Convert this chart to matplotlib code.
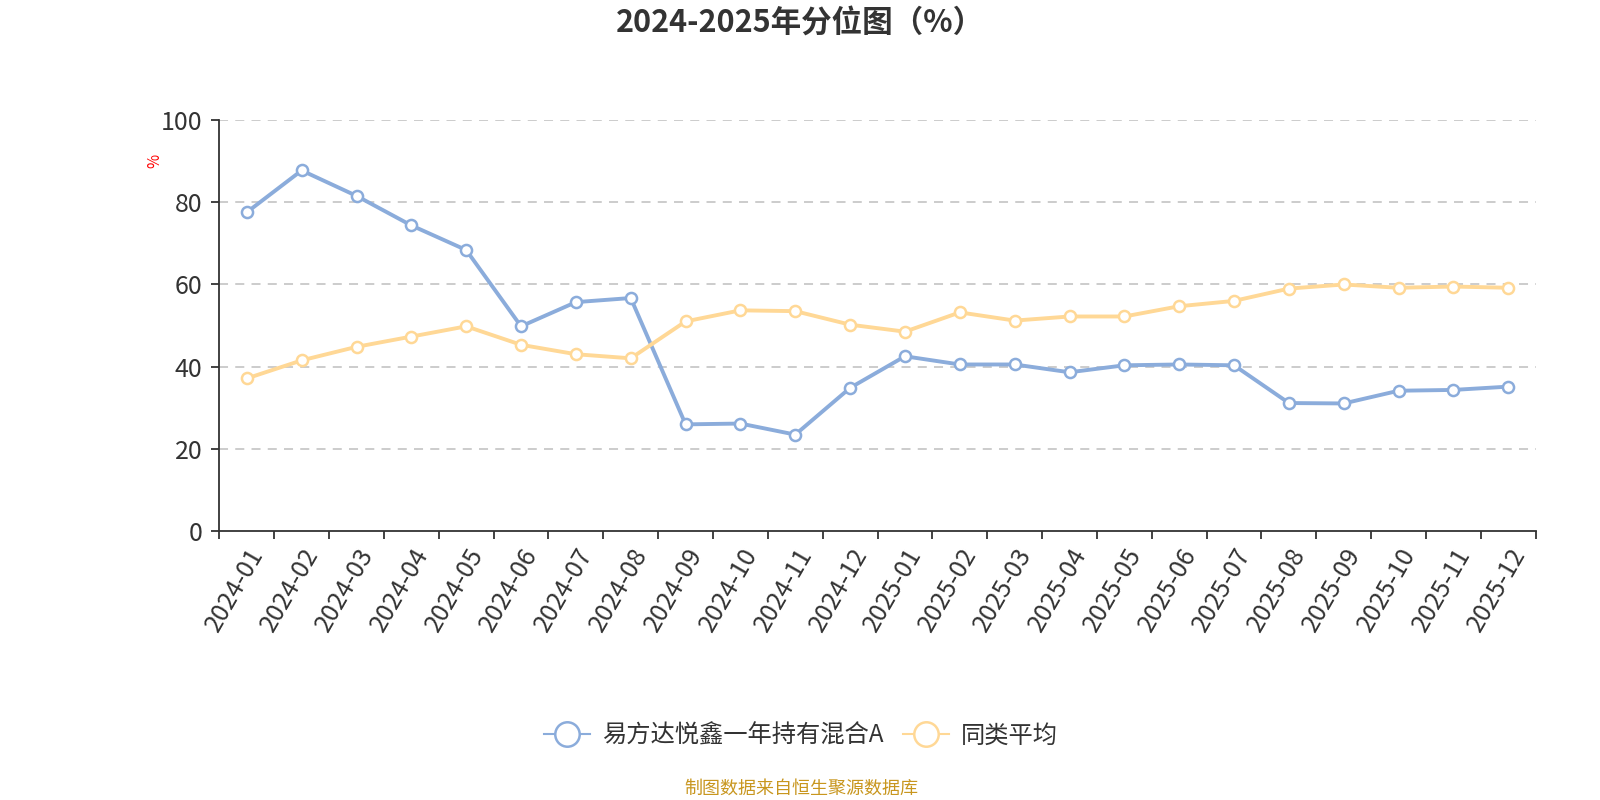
import matplotlib
matplotlib.use("Agg")
import matplotlib.pyplot as plt
import numpy as np

plt.rcParams['font.family'] = ['Noto Sans CJK SC', 'DejaVu Sans']

months = ["2024-01", "2024-02", "2024-03", "2024-04", "2024-05", "2024-06",
          "2024-07", "2024-08", "2024-09", "2024-10", "2024-11", "2024-12",
          "2025-01", "2025-02", "2025-03", "2025-04", "2025-05", "2025-06",
          "2025-07", "2025-08", "2025-09", "2025-10", "2025-11", "2025-12"]
fund = [77.6, 87.8, 81.6, 74.4, 68.4, 49.8, 55.7, 56.7, 25.9, 26.1, 23.4, 34.8,
        42.5, 40.5, 40.5, 38.6, 40.3, 40.5, 40.3, 31.1, 31.0, 34.1, 34.3, 35.1]
peer = [37.1, 41.5, 44.8, 47.3, 49.8, 45.3, 43.0, 42.0, 51.0, 53.7, 53.5, 50.2,
        48.5, 53.2, 51.2, 52.2, 52.2, 54.7, 56.0, 59.0, 60.0, 59.2, 59.5, 59.2]
series_names = ["易方达悦鑫一年持有混合A", "同类平均"]
yticks = [0, 20, 40, 60, 80, 100]

blue = '#8BACDB'
yellow = '#FFD896'
dark = '#333333'

W, H = 1568, 784
fig = plt.figure(figsize=(16, 8), dpi=100)
ax = fig.add_axes([215/W, 1-520/H, 1290/W, 402/H])

x = np.arange(len(months))
for vals, col, name in [(fund, blue, series_names[0]), (peer, yellow, series_names[1])]:
    ax.plot(x, vals, color=col, lw=2.8, marker='o', ms=8, mfc='white',
            mec=col, mew=1.8, label=name, zorder=3)

ax.set_xlim(-0.5, len(months) - 0.5)
ax.set_ylim(0, 100)
ax.set_yticks(yticks)
ax.set_yticklabels([str(t) for t in yticks], fontsize=18, color=dark)
ax.set_xticks(x)
ax.set_xticklabels(months, rotation=60, ha='right', va='top',
                   rotation_mode='anchor', fontsize=18, color=dark)
ax.set_xticks(np.arange(len(months) + 1) - 0.5, minor=True)
ax.tick_params(axis='x', which='major', length=0, pad=9)
ax.tick_params(axis='x', which='minor', length=6, width=1.3, color=dark)
ax.tick_params(axis='y', length=6, width=1.3, color=dark, pad=6)

for s in ['top', 'right']:
    ax.spines[s].set_visible(False)
for s in ['left', 'bottom']:
    ax.spines[s].set_color(dark)
    ax.spines[s].set_linewidth(1.3)

for t in yticks[1:]:
    ax.axhline(t, color='#C8C8C8', lw=1.3, ls=(0, (5, 4)), zorder=1)

fig.text(152/W, 1-158/H, '%', color='red', fontsize=11, rotation=90,
         ha='center', va='center')

fig.text(784/W, 1-22/H, '2024-2025年分位图（%）', fontsize=22,
         fontweight='bold', color=dark, ha='center', va='center')

leg = fig.legend(loc='center', bbox_to_anchor=(785/W, 1-721/H), ncol=2,
                 frameon=False, fontsize=17.5, handlelength=1.9,
                 columnspacing=0.8, handletextpad=0.5, markerscale=2.2)
for t in leg.get_texts():
    t.set_color(dark)
for h in leg.legend_handles:
    h.set_linewidth(1.5)
    h.set_markeredgewidth(1.8)

fig.text(785/W, 1-773/H, '制图数据来自恒生聚源数据库', fontsize=13,
         color='#C8961E', ha='center', va='center')

fig.savefig('out.png', dpi=100)
